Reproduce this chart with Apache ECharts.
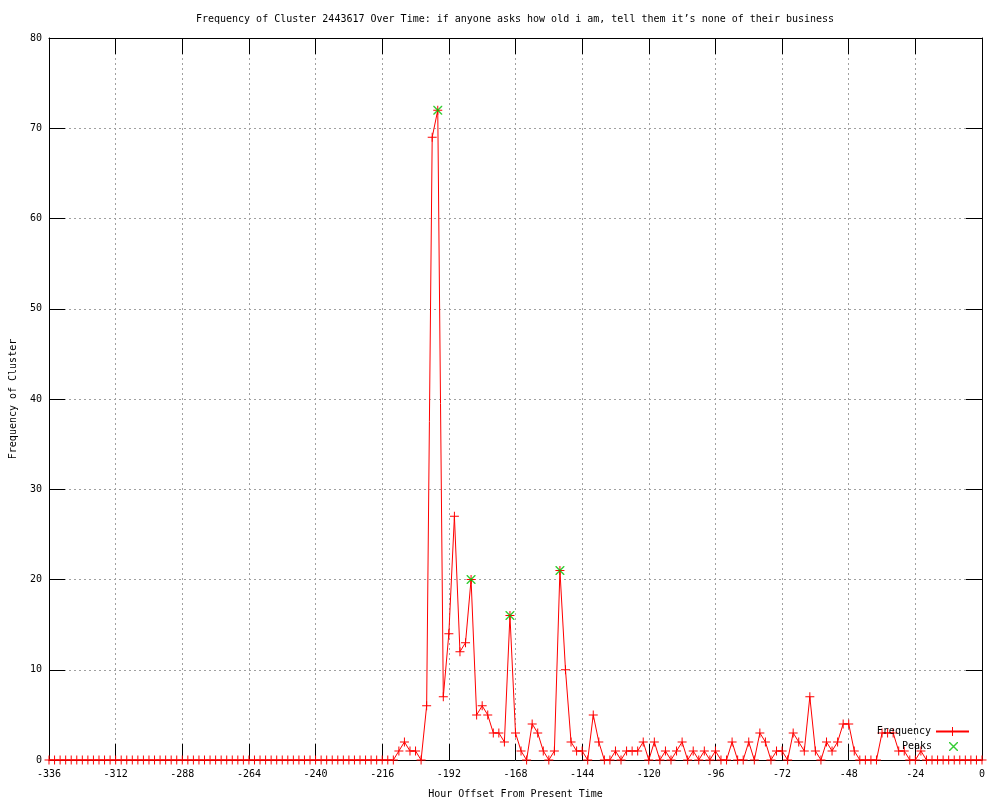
<!DOCTYPE html>
<html><head><meta charset="utf-8">
<script src="https://cdn.jsdelivr.net/npm/echarts@6/dist/echarts.min.js"></script>
<style>html,body{margin:0;padding:0;background:#fff}#c{width:1000px;height:800px}</style>
</head><body><div id="c"></div>
<script>
const titleText = 'Frequency of Cluster 2443617 Over Time: if anyone asks how old i am, tell them it’s none of their business';
const xAxisTitle = 'Hour Offset From Present Time';
const yAxisTitle = 'Frequency of Cluster';
const seriesNames = ['Frequency', 'Peaks'];
const hourStart = -336;
const hourStep = 2;
// frequency every 2 hours from -336 to 0
const frequency = [
  0,0,0,0,0,0,0,0,0,0, 0,0,0,0,0,0,0,0,0,0,
  0,0,0,0,0,0,0,0,0,0, 0,0,0,0,0,0,0,0,0,0,
  0,0,0,0,0,0,0,0,0,0, 0,0,0,0,0,0,0,0,0,0,
  0,0,0,
  1,2,1,1,0,6,69,72,7,14,
  27,12,13,20,5,6,5,3,3,2,
  16,3,1,0,4,3,1,0,1,21,
  10,2,1,1,0,5,2,0,0,1,
  0,1,1,1,2,0,2,0,1,0,
  1,2,0,1,0,1,0,1,0,0,
  2,0,0,2,0,3,2,0,1,1,
  0,3,2,1,7,1,0,2,1,2,
  4,4,1,0,0,0,0,3,3,3,
  1,1,0,0,1,0,0,0,0,0,
  0,0,0,0,0,0
];
const peakHours = [-196, -184, -170, -152];
const peakValues = [72, 20, 16, 21];
const xMin = -336, xMax = 0, xInterval = 24;
const yMin = 0, yMax = 80, yInterval = 10;

const freqData = frequency.map((v, i) => [hourStart + i * hourStep, v]);
const peakData = peakHours.map((h, i) => [h, peakValues[i]]);

const FONT = '"DejaVu Sans Mono", "Liberation Mono", monospace';
const plusSym = 'path://M0,4h9v1h-9z M4,0h1v9h-1z';
const crossSym = 'path://M0,0L1,0L9,8L9,9L8,9L0,1Z M8,0L9,0L9,1L1,9L0,9L0,8Z';

const tickStyle = { show: true, inside: true, length: 16, lineStyle: { color: '#000', width: 1 } };
const axisLineStyle = { show: true, onZero: false, lineStyle: { color: '#000', width: 1 } };
const gridLine = { show: true, lineStyle: { color: '#a0a0a0', type: [2, 3], width: 1 } };
const labelStyle = { color: '#000', fontFamily: FONT, fontSize: 10 };

const chart = echarts.init(document.getElementById('c'), null, { renderer: 'canvas' });
chart.setOption({
  animation: false,
  backgroundColor: '#fff',
  title: {
    text: titleText, left: 515, top: 14, textAlign: 'center', padding: 0,
    textStyle: { color: '#000', fontFamily: FONT, fontSize: 10, fontWeight: 'normal' }
  },
  grid: { left: 49, right: 18, top: 38, bottom: 40, containLabel: false, outerBoundsMode: 'none' },
  legend: [
    {
      data: [{ name: seriesNames[0] }], orient: 'vertical', align: 'right',
      right: 30, top: 726.5, itemWidth: 33, itemHeight: 11, padding: 0,
      selectedMode: false, textStyle: labelStyle
    },
    {
      data: [{ name: seriesNames[1], icon: crossSym }], orient: 'vertical', align: 'right',
      right: 42, top: 741.5, itemWidth: 33, itemHeight: 9, padding: 0,
      selectedMode: false, textStyle: labelStyle
    }
  ],
  xAxis: [
    {
      type: 'value', min: xMin, max: xMax, interval: xInterval, position: 'bottom',
      axisLine: axisLineStyle, axisTick: tickStyle, splitLine: gridLine,
      axisLabel: Object.assign({ margin: 9, formatter: v => String(v) }, labelStyle),
      name: xAxisTitle, nameLocation: 'middle', nameGap: 29, nameTextStyle: labelStyle
    },
    {
      type: 'value', min: xMin, max: xMax, interval: xInterval, position: 'top',
      axisLine: axisLineStyle, axisTick: tickStyle, splitLine: { show: false },
      axisLabel: { show: false }
    }
  ],
  yAxis: [
    {
      type: 'value', min: yMin, max: yMax, interval: yInterval, position: 'left',
      axisLine: axisLineStyle, axisTick: tickStyle, splitLine: gridLine,
      axisLabel: Object.assign({ margin: 7 }, labelStyle),
      name: yAxisTitle, nameLocation: 'middle', nameGap: 31, nameTextStyle: labelStyle
    },
    {
      type: 'value', min: yMin, max: yMax, interval: yInterval, position: 'right',
      axisLine: axisLineStyle, axisTick: tickStyle, splitLine: { show: false },
      axisLabel: { show: false }
    }
  ],
  series: [
    {
      name: seriesNames[0], type: 'line', data: freqData, xAxisIndex: 0, yAxisIndex: 0,
      symbol: plusSym, symbolSize: 9, showAllSymbol: true, clip: false,
      lineStyle: { color: '#ff0000', width: 1 }, itemStyle: { color: '#ff0000' },
      emphasis: { disabled: true }, z: 3
    },
    {
      name: seriesNames[1], type: 'scatter', data: peakData, xAxisIndex: 0, yAxisIndex: 0,
      symbol: crossSym, symbolSize: 9, itemStyle: { color: '#00c000' },
      emphasis: { disabled: true }, z: 4
    }
  ]
});
</script>
</body></html>
